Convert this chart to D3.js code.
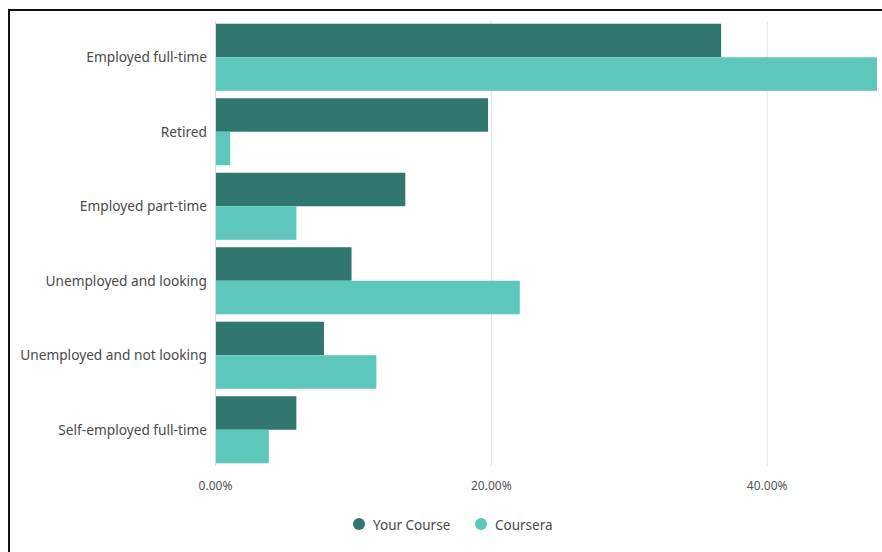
<!DOCTYPE html>
<html>
<head>
<meta charset="utf-8">
<script src="https://cdn.jsdelivr.net/npm/d3@7"></script>
<style>
  html, body { margin: 0; padding: 0; background: #fff; }
  svg { display: block; font-family: "Noto Sans", "Open Sans", sans-serif; }
</style>
</head>
<body>
<svg id="chart" width="882" height="552"></svg>
<script>
// Employment status: share of learners, in percent
const categories = [
  "Employed full-time",
  "Retired",
  "Employed part-time",
  "Unemployed and looking",
  "Unemployed and not looking",
  "Self-employed full-time"
];
const yourCourse = [36.7, 19.8, 13.8, 9.9, 7.9, 5.9];
const coursera   = [48.0, 1.1, 5.9, 22.1, 11.7, 3.9];
const seriesNames = ["Your Course", "Coursera"];
const seriesColors = ["#317770", "#5cc7ba"];
const xTicks = [0, 20, 40];

const svg = d3.select("#chart");

// outer frame
svg.append("rect")
  .attr("x", 9).attr("y", 10)
  .attr("width", 900).attr("height", 600)
  .attr("fill", "none").attr("stroke", "#111").attr("stroke-width", 2);

const plotLeft = 215, plotRight = 877;
const plotTop = 20, plotBottom = 467;

const x = d3.scaleLinear().domain([0, 48]).range([plotLeft, plotRight]);
const y = d3.scaleBand().domain(categories).range([plotTop, plotBottom])
  .paddingInner(0.1).paddingOuter(0.05);
const ySub = d3.scaleBand().domain(seriesNames).range([0, y.bandwidth()]);

// vertical grid lines
svg.append("g").selectAll("line")
  .data(xTicks)
  .join("line")
  .attr("x1", d => x(d) + 0.5).attr("x2", d => x(d) + 0.5)
  .attr("y1", 21).attr("y2", 466)
  .attr("stroke", d => d === 0 ? "#d6d8ec" : "#e2e2e2")
  .attr("stroke-width", 1);

// bars
const rows = categories.map((c, i) => ({
  cat: c,
  vals: [yourCourse[i], coursera[i]]
}));
const groups = svg.append("g").selectAll("g")
  .data(rows)
  .join("g")
  .attr("transform", d => `translate(0,${y(d.cat)})`);
groups.selectAll("rect")
  .data(d => d.vals.map((v, j) => ({ v, s: seriesNames[j], c: seriesColors[j] })))
  .join("rect")
  .attr("x", x(0) + 1)
  .attr("y", d => ySub(d.s))
  .attr("width", d => x(d.v) - x(0) - 1)
  .attr("height", ySub.bandwidth())
  .attr("fill", d => d.c);

// category labels
svg.append("g").selectAll("text")
  .data(categories)
  .join("text")
  .attr("x", 207)
  .attr("y", d => y(d) + y.bandwidth() / 2)
  .attr("dy", "0.35em")
  .attr("text-anchor", "end")
  .attr("font-size", 13.7)
  .attr("fill", "#4a4a4a")
  .text(d => d);

// x tick labels
svg.append("g").selectAll("text")
  .data(xTicks)
  .join("text")
  .attr("x", d => x(d) + 0.5)
  .attr("y", 486)
  .attr("dy", "0.35em")
  .attr("text-anchor", "middle")
  .attr("font-size", 12)
  .attr("fill", "#555")
  .text(d => d3.format(".2f")(d) + "%");

// legend
const legend = svg.append("g");
const legendX = [359, 481];
seriesNames.forEach((name, i) => {
  legend.append("circle")
    .attr("cx", legendX[i]).attr("cy", 524)
    .attr("r", 6).attr("fill", seriesColors[i]);
  legend.append("text")
    .attr("x", legendX[i] + 14).attr("y", 525)
    .attr("dy", "0.35em")
    .attr("font-size", 13.5)
    .attr("fill", "#4a4a4a")
    .text(name);
});
</script>
</body>
</html>
